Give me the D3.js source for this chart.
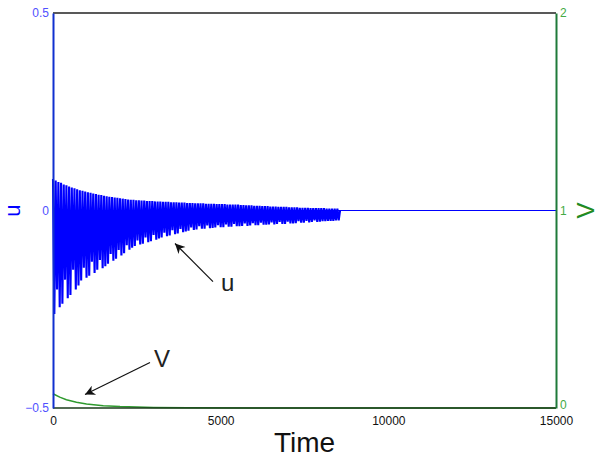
<!DOCTYPE html>
<html><head><meta charset="utf-8">
<script src="https://cdn.jsdelivr.net/npm/d3@7"></script>
<style>body{margin:0;background:#fff}svg{display:block}</style>
</head><body>
<script>
// ---- data ----
const xTicks = [0, 5000, 10000, 15000];
const uTicks = [-0.5, 0, 0.5];
const vTicks = [0, 1, 2];
const uCycle = 80; // time units per oscillation cycle
const uPeaks = [
 0.080,0.076,0.072,0.070,0.066,0.064,0.061,0.058,0.056,0.054,
 0.051,0.050,0.048,0.046,0.045,0.043,0.042,0.040,0.039,0.037,
 0.036,0.035,0.034,0.033,0.032,0.031,0.030,0.029,0.028,0.027,
 0.027,0.026,0.026,0.025,0.025,0.024,0.024,0.024,0.023,0.023,
 0.023,0.022,0.022,0.022,0.021,0.021,0.021,0.020,0.020,0.020,
 0.019,0.019,0.019,0.018,0.018,0.018,0.018,0.017,0.017,0.017,
 0.017,0.016,0.016,0.016,0.016,0.015,0.015,0.015,0.015,0.015,
 0.014,0.014,0.013,0.013,0.013,0.012,0.012,0.012,0.011,0.011,
 0.011,0.010,0.010,0.010,0.009,0.009,0.009,0.009,0.008,0.008,
 0.008,0.008,0.007,0.007,0.007,0.007,0.006,0.006,0.006,0.006,
 0.006,0.006,0.005,0.005,0.005,0.005,0.005
];
const uTroughs = [
 -0.262,-0.200,-0.245,-0.236,-0.175,-0.222,-0.214,-0.150,-0.200,-0.190,
 -0.177,-0.145,-0.170,-0.165,-0.130,-0.158,-0.150,-0.125,-0.146,-0.141,
 -0.135,-0.110,-0.127,-0.122,-0.100,-0.114,-0.108,-0.088,-0.099,-0.094,
 -0.090,-0.076,-0.086,-0.084,-0.068,-0.080,-0.078,-0.062,-0.074,-0.071,
 -0.068,-0.056,-0.065,-0.063,-0.050,-0.060,-0.058,-0.047,-0.055,-0.053,
 -0.051,-0.043,-0.049,-0.048,-0.040,-0.046,-0.046,-0.038,-0.045,-0.044,
 -0.043,-0.037,-0.042,-0.042,-0.035,-0.041,-0.041,-0.034,-0.040,-0.040,
 -0.039,-0.033,-0.039,-0.038,-0.032,-0.037,-0.037,-0.031,-0.036,-0.036,
 -0.035,-0.030,-0.035,-0.034,-0.029,-0.034,-0.034,-0.028,-0.033,-0.033,
 -0.032,-0.027,-0.031,-0.031,-0.026,-0.030,-0.029,-0.025,-0.029,-0.028,
 -0.027,-0.027,-0.026,-0.026,-0.026,-0.025,-0.025
];
const uTailTime = [8560, 15000];
const uTailVal = [0, 0];
const vTime = [0, 200, 400, 700, 1000, 1500, 2000, 3000, 4000, 6000, 10000, 15000];
const vVal  = [0.072, 0.055, 0.042, 0.029, 0.020, 0.012, 0.0075, 0.003, 0.0012, 0.0003, 0.0001, 0];
const notes = [
  {text: "u", tx: 5010, ty: -0.205, x1: 4771, y1: -0.180, x2: 3638, y2: -0.0835},
  {text: "V", tx: 3012, ty: -0.397, x1: 2893, y1: -0.385, x2: 954, y2: -0.466}
];

// ---- layout ----
const W = 598, H = 459;
const L = 53, R = 556, T = 13, B = 408;
const blue = "#0000ff", blueAxis = "#1030d0", blueTxt = "#5050ff";
const green = "#2e9a2e", greenAxis = "#1f7a3a", greenTxt = "#44aa44";
const font = "'Liberation Sans', Arial, sans-serif";

const svg = d3.select("body").append("svg").attr("width", W).attr("height", H);
const x = d3.scaleLinear().domain([0, 15000]).range([L, R]);
const yU = d3.scaleLinear().domain([-0.5, 0.5]).range([B, T]);
const yV = d3.scaleLinear().domain([0, 2]).range([B, T]);

// u series
const uPts = [];
uPeaks.forEach((p, i) => { uPts.push([i * uCycle, p]); uPts.push([i * uCycle + uCycle / 2, uTroughs[i]]); });
uPts.push([uTailTime[0], uTailVal[0]]);
const uTail = uTailTime.map((t, i) => [t, uTailVal[i]]);
const lineU = d3.line().x(d => x(d[0])).y(d => yU(d[1]));
svg.append("path").attr("d", lineU([[0, 0], [15000, 0]])).attr("fill", "none").attr("stroke", blue).attr("stroke-width", 1);
svg.append("path").attr("d", lineU(uPts)).attr("fill", "none").attr("stroke", blue).attr("stroke-width", 2.1)
  .attr("stroke-linejoin", "bevel");
svg.append("path").attr("d", lineU(uTail)).attr("fill", "none").attr("stroke", blue).attr("stroke-width", 1);

// V series
const lineV = d3.line().x((d, i) => x(vTime[i])).y(d => yV(d));
svg.append("path").attr("d", lineV(vVal)).attr("fill", "none").attr("stroke", green).attr("stroke-width", 1.5);

// frame
svg.append("line").attr("x1", L).attr("x2", R).attr("y1", T).attr("y2", T).attr("stroke", "#222").attr("stroke-width", 1.5);
svg.append("line").attr("x1", L).attr("x2", R).attr("y1", B).attr("y2", B).attr("stroke", "#1a3a1a").attr("stroke-width", 1.5);

// axes
const axB = svg.append("g").attr("transform", `translate(0,${B})`)
  .call(d3.axisBottom(x).tickValues(xTicks).tickSize(0).tickPadding(8).tickFormat(d3.format("d")));
axB.select(".domain").remove();
axB.selectAll("text").attr("font-family", font).attr("font-size", 12).attr("fill", "#111");

const axL = svg.append("g").attr("transform", `translate(${L},0)`)
  .call(d3.axisLeft(yU).tickValues(uTicks).tickSize(0).tickPadding(4).tickFormat(d => d === 0 ? "0" : (d < 0 ? "\u22120.5" : "0.5")));
axL.select(".domain").attr("stroke", blueAxis).attr("stroke-width", 2);
axL.selectAll("text").attr("font-family", font).attr("font-size", 12).attr("fill", blueTxt);

const axR = svg.append("g").attr("transform", `translate(${R},0)`)
  .call(d3.axisRight(yV).tickValues(vTicks).tickSize(0).tickPadding(4).tickFormat(d3.format("d")));
axR.select(".domain").attr("stroke", greenAxis).attr("stroke-width", 2);
axR.selectAll("text").attr("font-family", font).attr("font-size", 12).attr("fill", greenTxt)
  .attr("dy", d => d === 0 ? "0" : "0.32em");

// axis labels
svg.append("text").attr("transform", `translate(20,${(T + B) / 2}) rotate(-90)`).attr("text-anchor", "middle")
  .attr("font-family", font).attr("font-size", 22).attr("fill", blue).text("u");
svg.append("text").attr("transform", `translate(594,${(T + B) / 2}) rotate(-90)`).attr("text-anchor", "middle")
  .attr("font-family", font).attr("font-size", 24).attr("fill", "#228b22").text("V");
svg.append("text").attr("x", (L + R) / 2).attr("y", 452).attr("text-anchor", "middle")
  .attr("font-family", font).attr("font-size", 28).attr("fill", "#111").text("Time");

// annotations
svg.append("defs").append("marker").attr("id", "ah").attr("viewBox", "0 0 10 10").attr("refX", 10).attr("refY", 5)
  .attr("markerWidth", 14).attr("markerHeight", 10).attr("markerUnits", "userSpaceOnUse").attr("orient", "auto")
  .append("path").attr("d", "M0,0 L10,5 L0,10 L3,5 Z").attr("fill", "#111");
notes.forEach(n => {
  svg.append("line").attr("x1", x(n.x1)).attr("y1", yU(n.y1)).attr("x2", x(n.x2)).attr("y2", yU(n.y2))
    .attr("stroke", "#111").attr("stroke-width", 1.2).attr("marker-end", "url(#ah)");
  svg.append("text").attr("x", x(n.tx)).attr("y", yU(n.ty)).attr("font-family", font).attr("font-size", 24)
    .attr("fill", "#222").text(n.text);
});
</script>
</body></html>
